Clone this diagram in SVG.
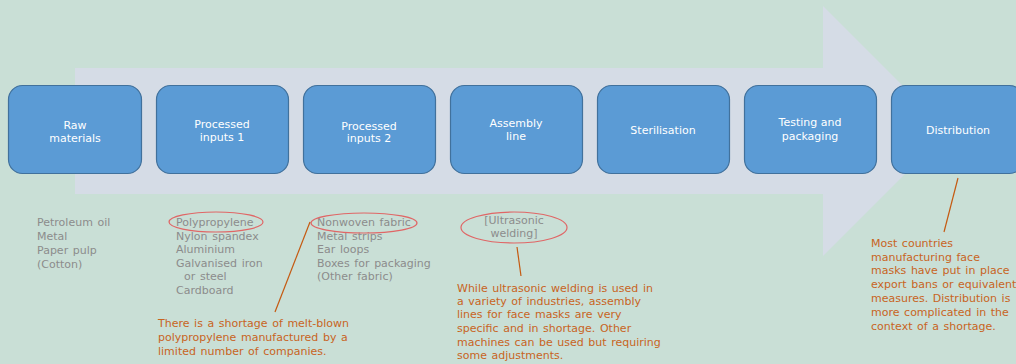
<svg xmlns="http://www.w3.org/2000/svg" width="1016" height="364" viewBox="0 0 1016 364">
<style>
.box{fill:#5b9bd5;stroke:#41719c;stroke-width:1.2}
.lbl{font-family:"DejaVu Sans",Verdana,sans-serif;font-size:11px;fill:#ffffff;text-anchor:middle}
.gray{font-family:"DejaVu Sans",Verdana,sans-serif;font-size:11px;fill:#8c8c8c;word-spacing:1.2px}
.note{font-family:"DejaVu Sans",Verdana,sans-serif;font-size:11px;fill:#c8641e;word-spacing:1.1px}
.ring{fill:none;stroke:#e06666;stroke-width:1.2}
.lead{stroke:#c55a11;stroke-width:1.2;fill:none}
</style>
<rect width="1016" height="364" fill="#c9dfd6"/>
<polygon points="75,68 823,68 823,6 948,131 823,256 823,194 75,194" fill="#d5dce6"/>
<g id="n1"><rect class="box" x="8.5" y="85.5" width="133" height="88" rx="14"/><text class="lbl" x="75" y="129">Raw</text><text class="lbl" x="75" y="142">materials</text></g>
<g id="n2"><rect class="box" x="156.5" y="85.5" width="132" height="88" rx="14"/><text class="lbl" x="222" y="128">Processed</text><text class="lbl" x="222" y="141">inputs  1</text></g>
<g id="n3"><rect class="box" x="303.5" y="85.5" width="132" height="88" rx="14"/><text class="lbl" x="369" y="130">Processed</text><text class="lbl" x="369" y="142">inputs  2</text></g>
<g id="n4"><rect class="box" x="450.5" y="85.5" width="132" height="88" rx="14"/><text class="lbl" x="516" y="127">Assembly</text><text class="lbl" x="516" y="140">line</text></g>
<g id="n5"><rect class="box" x="597.5" y="85.5" width="132" height="88" rx="14"/><text class="lbl" x="663" y="134">Sterilisation</text></g>
<g id="n6"><rect class="box" x="744.5" y="85.5" width="132" height="88" rx="14"/><text class="lbl" x="810" y="126">Testing and</text><text class="lbl" x="810" y="140">packaging</text></g>
<g id="n7"><rect class="box" x="891.5" y="85.5" width="132" height="88" rx="14"/><text class="lbl" x="958" y="134">Distribution</text></g>
<g id="lists">
<text class="gray" x="37" y="226">Petroleum oil</text>
<text class="gray" x="37" y="240">Metal</text>
<text class="gray" x="37" y="254">Paper pulp</text>
<text class="gray" x="37" y="268">(Cotton)</text>
<text class="gray" x="176" y="226">Polypropylene</text>
<text class="gray" x="176" y="240">Nylon spandex</text>
<text class="gray" x="176" y="253">Aluminium</text>
<text class="gray" x="176" y="267">Galvanised iron</text>
<text class="gray" x="184" y="280">or steel</text>
<text class="gray" x="176" y="294">Cardboard</text>
<text class="gray" x="317" y="226">Nonwoven fabric</text>
<text class="gray" x="317" y="240">Metal strips</text>
<text class="gray" x="317" y="253">Ear loops</text>
<text class="gray" x="317" y="267">Boxes for packaging</text>
<text class="gray" x="317" y="280">(Other fabric)</text>
<text class="gray" x="514" y="224" text-anchor="middle">[Ultrasonic</text>
<text class="gray" x="514" y="237" text-anchor="middle">welding]</text>
</g>
<g id="connectors">
<ellipse class="ring" cx="216" cy="222" rx="47" ry="10"/>
<ellipse class="ring" cx="364" cy="223" rx="53" ry="10"/>
<ellipse class="ring" cx="514" cy="227.5" rx="53" ry="15.5"/>
<line class="lead" x1="310" y1="222" x2="275" y2="312"/>
<line class="lead" x1="517" y1="247" x2="521" y2="276"/>
<line class="lead" x1="958" y1="178" x2="944" y2="232"/>
</g>
<g id="notes">
<text class="note" x="158" y="327">There is a shortage of melt-blown</text>
<text class="note" x="158" y="341">polypropylene manufactured by a</text>
<text class="note" x="158" y="355">limited number of companies.</text>
<text class="note" x="457" y="292">While ultrasonic welding is used in</text>
<text class="note" x="457" y="305">a variety of industries, assembly</text>
<text class="note" x="457" y="318">lines for face masks are very</text>
<text class="note" x="457" y="332">specific and in shortage. Other</text>
<text class="note" x="457" y="346">machines can be used but requiring</text>
<text class="note" x="457" y="359">some adjustments.</text>
<text class="note" x="871" y="247">Most countries</text>
<text class="note" x="871" y="261">manufacturing face</text>
<text class="note" x="871" y="274">masks have put in place</text>
<text class="note" x="871" y="288">export bans or equivalent</text>
<text class="note" x="871" y="302">measures. Distribution is</text>
<text class="note" x="871" y="316">more complicated in the</text>
<text class="note" x="871" y="330">context of a shortage.</text>
</g>
</svg>
